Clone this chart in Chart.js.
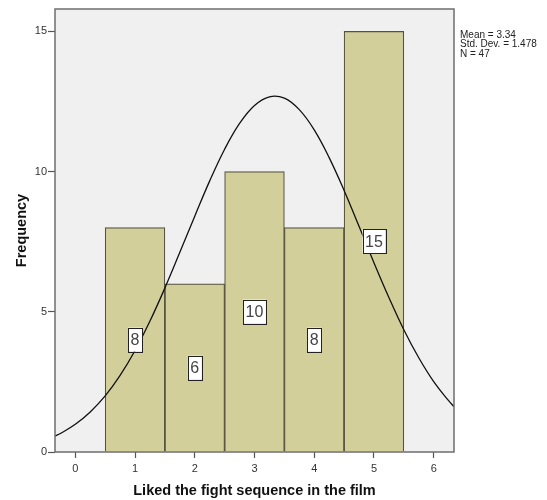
<!DOCTYPE html>
<html>
<head>
<meta charset="utf-8">
<script src="https://cdn.jsdelivr.net/npm/chart.js@4"></script>
<style>
  html, body { margin: 0; padding: 0; background: #fff; }
  #wrap { width: 547px; height: 500px; }
</style>
</head>
<body>
<div id="wrap"><canvas id="chart1"></canvas></div>
<script>
// histogram bins (rating value) and their counts
const binCenters = [1, 2, 3, 4, 5];
const counts = [8, 6, 10, 8, 15];

// fitted normal curve
const curveX = [-0.34, -0.25, 0, 0.25, 0.5, 0.75, 1, 1.25, 1.5, 1.75, 2, 2.25, 2.5, 2.75, 3, 3.25,
  3.5, 3.75, 4, 4.25, 4.5, 4.75, 5, 5.25, 5.5, 5.75, 6, 6.25, 6.34];
const curveY = [0.57, 0.66, 0.99, 1.43, 2.0, 2.73, 3.62, 4.67, 5.85, 7.12, 8.41, 9.67, 10.8, 11.72, 12.36, 12.67,
  12.62, 12.21, 11.49, 10.5, 9.33, 8.05, 6.75, 5.51, 4.36, 3.36, 2.51, 1.83, 1.62];

const xTickValues = [0, 1, 2, 3, 4, 5, 6];
const yTickValues = [0, 5, 10, 15];

const statLines = ['Mean = 3.34', 'Std. Dev. = 1.478', 'N = 47'];
const xTitle = 'Liked the fight sequence in the film';
const yTitle = 'Frequency';

const fontFamily = '"Liberation Sans", Arial, sans-serif';

const plotBackground = {
  id: 'plotBackground',
  beforeDraw(chart) {
    const { ctx, chartArea: a } = chart;
    ctx.save();
    ctx.fillStyle = '#f0f0f0';
    ctx.fillRect(a.left, a.top, a.right - a.left, a.bottom - a.top);
    ctx.restore();
  },
  afterDraw(chart) {
    const { ctx, chartArea: a } = chart;
    ctx.save();
    ctx.strokeStyle = '#6e6e6e';
    ctx.lineWidth = 1.5;
    ctx.strokeRect(a.left, a.top, a.right - a.left, a.bottom - a.top);

    // bar value boxes
    const meta = chart.getDatasetMeta(0);
    ctx.font = '16px ' + fontFamily;
    ctx.textAlign = 'center';
    ctx.textBaseline = 'middle';
    meta.data.forEach((bar, i) => {
      const text = String(counts[i]);
      const w = ctx.measureText(text).width + 5;
      const h = 24;
      const cy = (bar.y + bar.base) / 2;
      ctx.fillStyle = '#ffffff';
      ctx.fillRect(bar.x - w / 2, cy - h / 2, w, h);
      ctx.strokeStyle = '#222';
      ctx.lineWidth = 1;
      ctx.strokeRect(Math.round(bar.x - w / 2) + 0.5, Math.round(cy - h / 2) + 0.5, Math.round(w), h);
      ctx.fillStyle = '#444';
      ctx.fillText(text, bar.x, cy + 1);
    });

    // stats text at the right
    ctx.font = '10px ' + fontFamily;
    ctx.textAlign = 'left';
    ctx.textBaseline = 'middle';
    ctx.fillStyle = '#222';
    statLines.forEach((line, i) => ctx.fillText(line, a.right + 6, 35 + i * 9.5));
    ctx.restore();
  }
};

const ctx = document.getElementById('chart1').getContext('2d');
new Chart(ctx, {
  data: {
    datasets: [
      {
        type: 'bar',
        data: binCenters.map((x, i) => ({ x, y: counts[i] })),
        backgroundColor: '#d3cf9b',
        borderColor: '#55533f',
        borderWidth: 1.2,
        barPercentage: 1,
        categoryPercentage: 1,
        order: 2
      },
      {
        type: 'line',
        data: curveX.map((x, i) => ({ x, y: curveY[i] })),
        borderColor: '#111',
        borderWidth: 1.3,
        pointRadius: 0,
        fill: false,
        tension: 0.4,
        order: 1
      }
    ]
  },
  options: {
    responsive: true,
    maintainAspectRatio: false,
    animation: false,
    layout: { padding: { left: 0, right: 93, top: 9, bottom: 0 } },
    plugins: {
      legend: { display: false },
      tooltip: { enabled: false }
    },
    scales: {
      x: {
        type: 'linear',
        min: -0.34,
        max: 6.34,
        offset: false,
        afterBuildTicks: (scale) => {
          scale.ticks = xTickValues.map(value => ({ value }));
        },
        afterFit: (scale) => { scale.height = 48; },
        grid: { offset: false, drawOnChartArea: false, tickLength: 6, tickColor: '#555', tickWidth: 1.2 },
        border: { display: false },
        ticks: { color: '#333', padding: 4, font: { family: fontFamily, size: 11 } },
        title: {
          display: true,
          text: xTitle,
          color: '#111',
          padding: { top: 0, bottom: 0 },
          font: { family: fontFamily, size: 14.5, weight: 'bold' }
        }
      },
      y: {
        type: 'linear',
        min: 0,
        max: 15.8,
        afterBuildTicks: (scale) => {
          scale.ticks = yTickValues.map(value => ({ value }));
        },
        afterFit: (scale) => { scale.width = 55; },
        grid: { drawOnChartArea: false, tickLength: 7, tickColor: '#555', tickWidth: 1.2 },
        border: { display: false },
        ticks: { color: '#333', padding: 1, font: { family: fontFamily, size: 11 } },
        title: {
          display: true,
          text: yTitle,
          color: '#111',
          padding: { top: 13, bottom: 0 },
          font: { family: fontFamily, size: 14.5, weight: 'bold' }
        }
      }
    }
  },
  plugins: [plotBackground]
});
</script>
</body>
</html>
